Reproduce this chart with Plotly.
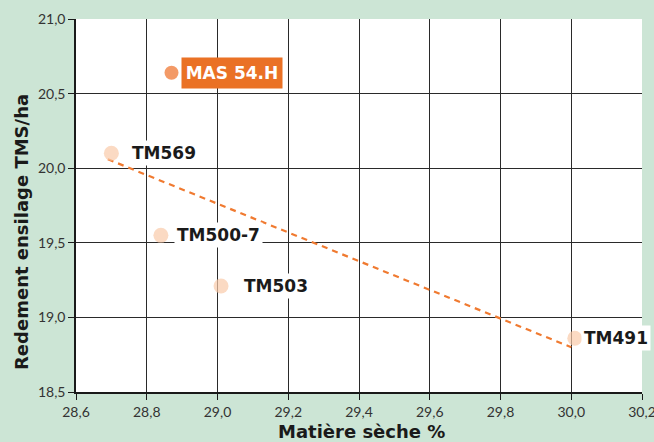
import plotly.graph_objects as go

# Data
varieties = ["MAS 54.H", "TM569", "TM500-7", "TM503", "TM491"]
dry_matter = [28.87, 28.70, 28.84, 29.01, 30.01]
yield_tms = [20.64, 20.10, 19.55, 19.21, 18.86]
trend_x = [28.69, 30.00]
trend_y = [20.06, 18.80]
x_ticks = [28.6, 28.8, 29.0, 29.2, 29.4, 29.6, 29.8, 30.0, 30.2]
y_ticks = [18.5, 19.0, 19.5, 20.0, 20.5, 21.0]

fmt = lambda v: f"{v:.1f}".replace(".", ",")

ORANGE = "#ee6f27"
PALE = "#f9cbaa"
BG = "#cce5d5"

fig = go.Figure()
fig.add_trace(go.Scatter(x=trend_x, y=trend_y, mode="lines",
                         line=dict(color="#f07a30", width=2.2, dash="6px,5px"),
                         hoverinfo="skip", showlegend=False))
colors = [ORANGE] + [PALE] * 4
sizes = [14] + [15] * 4
fig.add_trace(go.Scatter(x=dry_matter, y=yield_tms, mode="markers",
                         marker=dict(color=colors, size=sizes, line=dict(width=0)),
                         showlegend=False))

shifts = [9, 18, 13, 20, 6]
for i, (name, xv, yv) in enumerate(zip(varieties, dry_matter, yield_tms)):
    if i == 0:
        fig.add_annotation(x=xv, y=yv, text=f"<b>{name}</b>", showarrow=False,
                           xanchor="left", yanchor="middle", xshift=shifts[i],
                           width=94, height=24, align="center",
                           font=dict(family="DejaVu Sans", size=17, color="white"),
                           bgcolor="#ea7125", borderpad=3)
    else:
        fig.add_annotation(x=xv, y=yv, text=f"<b>{name}</b>", showarrow=False,
                           xanchor="left", yanchor="middle", xshift=shifts[i],
                           font=dict(family="DejaVu Sans", size=17, color="#1a1a1a"),
                           bgcolor="white", borderpad=2)

# axis titles
fig.add_annotation(xref="paper", yref="paper", x=0.505, y=-0.107,
                   text="<b>Matière sèche %</b>", showarrow=False,
                   xanchor="center", yanchor="middle",
                   font=dict(family="DejaVu Sans", size=18, color="#1a1a1a"))
fig.add_annotation(xref="paper", yref="paper", x=-0.0954, y=0.429,
                   text="<b>Redement ensilage TMS/ha</b>", showarrow=False,
                   textangle=-90, xanchor="center", yanchor="middle",
                   font=dict(family="DejaVu Sans", size=18, color="#1a1a1a"))

fig.update_layout(
    width=654, height=442,
    paper_bgcolor=BG, plot_bgcolor="white",
    margin=dict(l=76, r=12, t=19, b=50, autoexpand=False),
    font=dict(family="Lato", color="#333"),
    xaxis=dict(range=[28.6, 30.2], tickvals=x_ticks, ticktext=[fmt(v) for v in x_ticks],
               showgrid=True, gridcolor="#2a2a2a", gridwidth=1.3, zeroline=False,
               showline=True, linecolor="#1a1a1a", linewidth=1.5,
               ticks="outside", ticklen=6, tickcolor="#1a1a1a", automargin=False,
               ticklabeloverflow="allow",
               tickfont=dict(family="Lato", size=14, color="#333")),
    yaxis=dict(range=[18.5, 21.0], tickvals=y_ticks, ticktext=[fmt(v) for v in y_ticks],
               showgrid=True, gridcolor="#2a2a2a", gridwidth=1.3, zeroline=False,
               showline=True, linecolor="#1a1a1a", linewidth=1.5,
               ticks="outside", ticklen=6, tickcolor="#1a1a1a", automargin=False,
               ticklabeloverflow="allow",
               tickfont=dict(family="Lato", size=14, color="#333")),
)

fig.write_html("out.html", config={"displayModeBar": False},
               post_script="document.body.style.margin='0';")
